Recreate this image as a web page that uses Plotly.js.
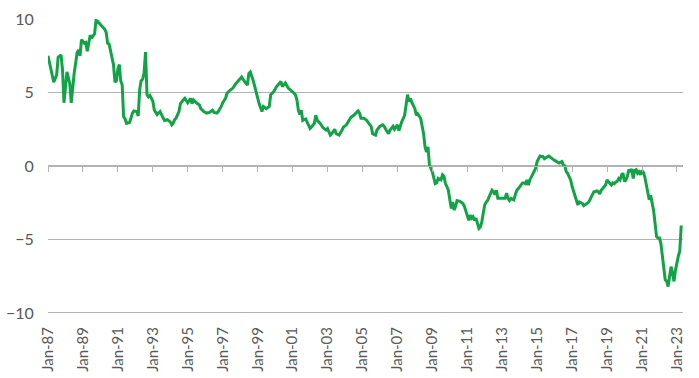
<!DOCTYPE html>
<html>
<head>
<meta charset="utf-8">
<script src="https://cdn.plot.ly/plotly-3.0.1.min.js"></script>
<style>html,body{margin:0;padding:0;background:#fff;}#chart{width:699px;height:378px;}</style>
</head>
<body>
<div id="chart"></div>
<script>
const dates = [
"1987-01","1987-04","1987-05","1987-07","1987-08","1987-10","1987-11","1987-12",
"1988-02","1988-04","1988-05","1988-07","1988-09","1988-10","1988-11","1988-12",
"1989-02","1989-03","1989-04","1989-06","1989-07","1989-09","1989-10","1989-11",
"1990-02","1990-04","1990-05","1990-06","1990-07","1990-09","1990-10","1990-11","1990-12",
"1991-01","1991-02","1991-03","1991-04","1991-05","1991-06","1991-07","1991-09","1991-10","1991-11","1991-12",
"1992-02","1992-03","1992-04","1992-05","1992-06","1992-07","1992-08","1992-09","1992-10","1992-11","1992-12",
"1993-01","1993-02","1993-03","1993-04","1993-05","1993-06","1993-07","1993-09","1993-11",
"1994-01","1994-02","1994-03","1994-04","1994-05","1994-07","1994-08","1994-10","1994-11",
"1995-01","1995-03","1995-04","1995-05","1995-07","1995-09","1995-10","1995-12",
"1996-02","1996-04","1996-06","1996-07","1996-09","1996-10","1996-12",
"1997-01","1997-03","1997-04","1997-06","1997-08","1997-10",
"1998-01","1998-02","1998-04","1998-06","1998-07","1998-08","1998-10","1998-12",
"1999-02","1999-04","1999-05","1999-07","1999-09","1999-10","1999-12",
"2000-02","2000-04","2000-05","2000-06","2000-08","2000-10","2000-12",
"2001-01","2001-03","2001-04","2001-05","2001-06","2001-07","2001-08","2001-10","2001-11",
"2002-01","2002-02","2002-04","2002-05","2002-06","2002-07","2002-08","2002-10","2002-12",
"2003-01","2003-03","2003-04","2003-06","2003-07","2003-09","2003-11","2003-12",
"2004-02","2004-04","2004-05","2004-07","2004-09","2004-10","2004-11","2004-12",
"2005-02","2005-04","2005-05","2005-07","2005-08","2005-10","2005-11",
"2006-01","2006-03","2006-04","2006-05","2006-07","2006-08","2006-10","2006-11",
"2007-01","2007-02","2007-03","2007-04","2007-06","2007-07","2007-08","2007-09","2007-10","2007-11",
"2008-01","2008-02","2008-03","2008-05","2008-06","2008-07","2008-08","2008-09","2008-10","2008-11",
"2009-01","2009-02","2009-03","2009-04","2009-05","2009-07","2009-08","2009-09","2009-10","2009-11","2009-12",
"2010-01","2010-02","2010-03","2010-04","2010-05","2010-06","2010-08","2010-10","2010-11","2010-12",
"2011-01","2011-02","2011-03","2011-04","2011-05","2011-06","2011-07","2011-08","2011-09","2011-10","2011-11","2011-12",
"2012-01","2012-02","2012-03","2012-04","2012-05","2012-06","2012-07","2012-08","2012-09","2012-10","2012-11","2012-12",
"2013-01","2013-02","2013-03","2013-04","2013-05","2013-06","2013-07","2013-08","2013-09","2013-10","2013-11","2013-12",
"2014-01","2014-02","2014-03","2014-04","2014-05","2014-06","2014-07","2014-08","2014-09","2014-10","2014-11","2014-12",
"2015-01","2015-02","2015-03","2015-04","2015-05","2015-06","2015-07","2015-08","2015-09","2015-10","2015-11","2015-12",
"2016-01","2016-02","2016-03","2016-04","2016-05","2016-06","2016-07","2016-08","2016-09","2016-10","2016-11","2016-12",
"2017-01","2017-02","2017-03","2017-04","2017-05","2017-06","2017-07","2017-08","2017-09","2017-10","2017-11","2017-12",
"2018-01","2018-02","2018-03","2018-04","2018-05","2018-06","2018-07","2018-08","2018-09","2018-10","2018-11","2018-12",
"2019-01","2019-02","2019-03","2019-04","2019-05","2019-06","2019-07","2019-08","2019-09","2019-10","2019-11","2019-12",
"2020-01","2020-02","2020-03","2020-04","2020-05","2020-06","2020-07","2020-08","2020-09","2020-10","2020-11","2020-12",
"2021-01","2021-02","2021-03","2021-04","2021-05","2021-06","2021-07","2021-08","2021-09","2021-10","2021-11","2021-12",
"2022-01","2022-02","2022-03","2022-04","2022-05","2022-06","2022-07","2022-08","2022-09","2022-10","2022-11","2022-12",
"2023-01","2023-02","2023-03","2023-04"
];
const values = [
7.5,6.3,5.7,6.2,7.4,7.55,6.5,4.3,
6.4,5.6,4.3,6.3,7.7,7.9,7.5,8.6,
8.35,8.4,7.8,8.9,8.7,9.0,9.9,9.85,
9.5,9.3,9.1,8.35,8.3,7.4,6.9,5.7,5.8,
6.6,6.9,5.8,5.5,3.35,3.2,2.9,2.95,3.25,3.6,3.75,
3.7,3.4,5.2,5.8,5.9,6.3,7.75,4.85,4.7,4.8,4.6,
4.4,3.8,3.6,3.5,3.6,3.7,3.5,3.1,3.15,
3.0,2.8,2.9,3.15,3.25,3.7,4.25,4.5,4.6,
4.3,4.6,4.25,4.5,4.3,4.15,3.9,3.7,
3.6,3.65,3.8,3.65,3.6,3.7,4.05,
4.3,4.6,4.95,5.15,5.3,5.6,
5.95,6.05,5.75,5.5,6.3,6.4,5.8,4.95,
4.25,3.7,4.05,3.9,4.05,4.85,5.05,
5.4,5.65,5.75,5.4,5.65,5.3,5.15,
5.05,4.85,4.5,3.8,3.5,3.8,3.1,3.2,3.0,
2.55,2.65,2.9,3.45,3.1,3.0,2.9,2.6,2.45,
2.55,2.1,2.2,2.5,2.2,2.1,2.45,2.65,
2.8,3.1,3.3,3.45,3.7,3.75,3.6,3.25,
3.25,3.1,2.95,2.7,2.2,2.1,2.45,
2.7,2.8,2.7,2.5,2.2,2.45,2.7,2.5,
2.8,2.4,2.7,3.0,3.45,4.05,4.85,4.4,4.6,4.3,
3.9,3.45,3.55,3.25,2.8,2.2,1.3,0.95,1.3,0.07,
-0.4,-0.85,-1.2,-1.15,-0.85,-0.95,-0.6,-0.7,-1.2,-1.4,-1.65,
-2.3,-2.9,-2.45,-3.0,-2.75,-2.35,-2.4,-2.55,-2.75,-3.1,
-3.35,-3.7,-3.35,-3.55,-3.45,-3.7,-3.55,-3.9,-4.25,-4.15,-3.8,-3.2,
-2.65,-2.45,-2.35,-2.1,-1.85,-1.65,-1.75,-1.95,-1.65,-2.2,-2.2,-2.2,
-2.25,-2.25,-2.2,-1.85,-2.2,-2.35,-2.2,-2.25,-2.3,-1.95,-1.65,-1.55,
-1.4,-1.2,-1.15,-1.15,-1.2,-0.95,-1.3,-0.95,-0.75,-0.55,-0.35,-0.15,
0.3,0.5,0.68,0.65,0.65,0.5,0.55,0.62,0.68,0.6,0.5,0.45,
0.38,0.3,0.22,0.2,0.25,0.3,0.07,0.0,-0.4,-0.5,-0.75,-0.95,
-1.4,-1.75,-2.1,-2.45,-2.65,-2.45,-2.5,-2.55,-2.7,-2.65,-2.6,-2.5,
-2.35,-2.15,-1.95,-1.75,-1.75,-1.7,-1.75,-1.9,-1.65,-1.55,-1.45,-1.3,
-0.95,-1.05,-1.15,-1.3,-1.15,-1.2,-1.1,-1.05,-0.85,-0.95,-0.6,-0.5,
-1.05,-0.95,-0.7,-0.25,-0.4,-0.2,-0.85,-0.3,-0.25,-0.5,-0.4,-0.6,
-0.3,-0.45,-0.75,-1.3,-1.75,-2.3,-2.0,-2.45,-3.05,-3.9,-4.8,-4.9,
-4.9,-5.3,-6.0,-6.9,-7.75,-7.85,-8.2,-7.5,-6.85,-7.3,-7.85,-7.1,
-6.5,-6.1,-5.8,-4.05
];
const tickDates = ["1987-01-01","1989-01-01","1991-01-01","1993-01-01","1995-01-01","1997-01-01","1999-01-01","2001-01-01","2003-01-01","2005-01-01","2007-01-01","2009-01-01","2011-01-01","2013-01-01","2015-01-01","2017-01-01","2019-01-01","2021-01-01","2023-01-01"];
const tickLabels = ["Jan-87","Jan-89","Jan-91","Jan-93","Jan-95","Jan-97","Jan-99","Jan-01","Jan-03","Jan-05","Jan-07","Jan-09","Jan-11","Jan-13","Jan-15","Jan-17","Jan-19","Jan-21","Jan-23"];
const yTicks = [-10,-5,0,5,10];

const xRange = ["1987-01-01","2023-05-08"];
const yRange = [-10.07, 10.0];
const textColor = "#595959";
const gridColor = "#b3b3b3";
const fontFam = "Lato, 'Open Sans', sans-serif";

const traces = [
  {x: dates, y: values, type: "scatter", mode: "lines", xaxis: "x", yaxis: "y",
   line: {color: "#13a347", width: 3}, hoverinfo: "skip", showlegend: false},
  {x: [dates[0]], y: [values[0]], type: "scatter", mode: "markers", xaxis: "x2", yaxis: "y",
   marker: {opacity: 0}, hoverinfo: "skip", showlegend: false}
];

const layout = {
  width: 699, height: 378,
  margin: {l: 48, r: 16, t: 19, b: 64},
  paper_bgcolor: "#ffffff", plot_bgcolor: "#ffffff",
  font: {family: fontFam, color: textColor, size: 15},
  showlegend: false,
  xaxis: {
    type: "date", range: xRange,
    tickmode: "array", tickvals: tickDates, ticktext: tickLabels,
    tickangle: -90, ticks: "outside", ticklen: 6, tickcolor: "rgba(0,0,0,0)",
    showgrid: false, zeroline: false, showline: false,
    tickfont: {family: fontFam, size: 15, color: textColor},
    fixedrange: true
  },
  xaxis2: {
    type: "date", range: xRange, overlaying: "x", anchor: "free",
    position: 10.07 / 20.07,
    tickmode: "array", tickvals: tickDates, showticklabels: false,
    ticks: "outside", ticklen: 5, tickwidth: 1, tickcolor: gridColor,
    showline: true, linecolor: gridColor, linewidth: 1,
    showgrid: false, zeroline: false, fixedrange: true
  },
  yaxis: {
    range: yRange, tickmode: "array", tickvals: yTicks,
    ticks: "outside", ticklen: 10, tickcolor: "rgba(0,0,0,0)",
    showgrid: true, gridcolor: gridColor, gridwidth: 1,
    zeroline: false, showline: false,
    tickfont: {family: fontFam, size: 16, color: textColor},
    fixedrange: true
  }
};

Plotly.newPlot("chart", traces, layout, {staticPlot: true, displayModeBar: false});
</script>
</body>
</html>
